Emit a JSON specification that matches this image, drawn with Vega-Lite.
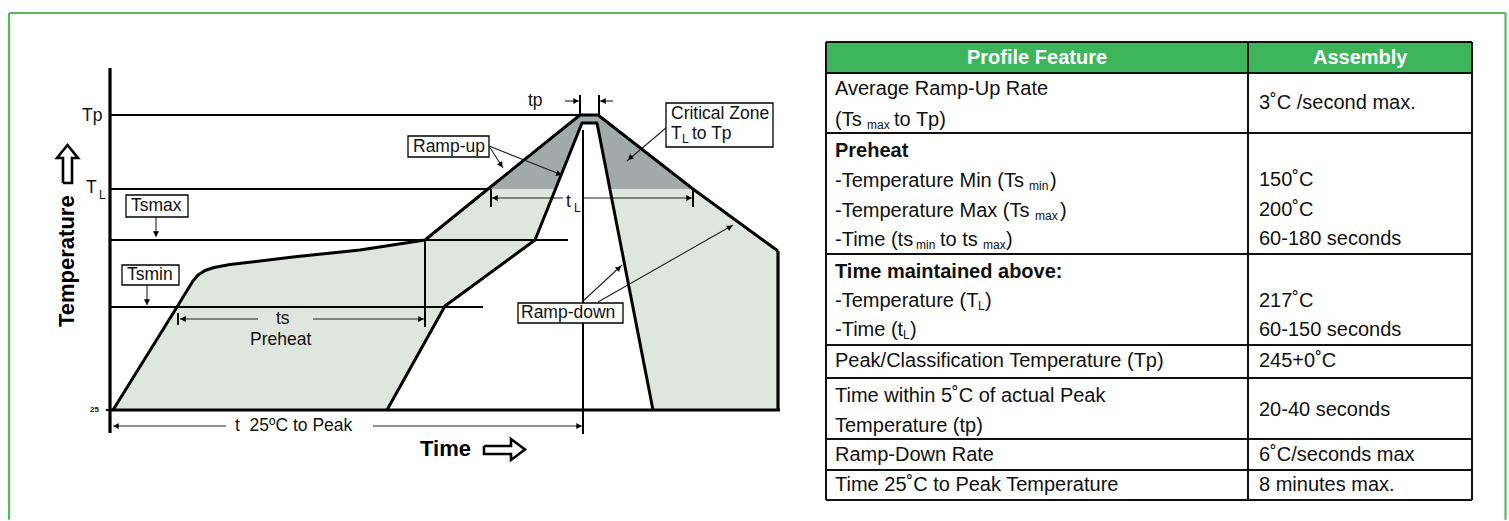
{
  "$schema": "https://vega.github.io/schema/vega-lite/v6.json",
  "width": 1509,
  "height": 521,
  "autosize": {"type": "fit", "contains": "padding"},
  "padding": 0,
  "background": "white",
  "config": {"view": {"stroke": null}, "text": {"font": "Liberation Sans"}},
  "datasets": {
    "frame": [
      {"x": 9, "y": 13, "x2": 1505.5, "y2": 13},
      {"x": 9, "y": 13, "x2": 9, "y2": 519.8},
      {"x": 1505.5, "y": 13, "x2": 1505.5, "y2": 519.8}
    ],
    "header": [{"x": 826, "y": 42, "x2": 1472, "y2": 73}],
    "outer": [
      {"x": 113, "y": 410, "y2": 410}, {"x": 177, "y": 307, "y2": 410}, {"x": 188, "y": 289, "y2": 410},
      {"x": 193, "y": 281, "y2": 410}, {"x": 198, "y": 275, "y2": 410}, {"x": 205, "y": 270.5, "y2": 410},
      {"x": 214, "y": 267.5, "y2": 410}, {"x": 230, "y": 264.5, "y2": 410}, {"x": 293, "y": 257, "y2": 410},
      {"x": 360, "y": 250, "y2": 410}, {"x": 425, "y": 240, "y2": 410}, {"x": 488, "y": 189, "y2": 410},
      {"x": 580, "y": 115, "y2": 410}, {"x": 598, "y": 115, "y2": 410}, {"x": 693, "y": 189, "y2": 410},
      {"x": 778, "y": 251, "y2": 410}
    ],
    "inner": [
      {"x": 387, "y": 410, "y2": 410}, {"x": 445, "y": 306, "y2": 410}, {"x": 535, "y": 240, "y2": 410},
      {"x": 582, "y": 123, "y2": 410}, {"x": 597, "y": 123, "y2": 410}, {"x": 653, "y": 410, "y2": 410}
    ],
    "zone": [
      {"x": 488, "y": 189, "y2": 189}, {"x": 555.5, "y": 134.7, "y2": 189}, {"x": 580, "y": 115, "y2": 128},
      {"x": 582, "y": 115, "y2": 123}, {"x": 597, "y": 115, "y2": 123}, {"x": 598, "y": 115, "y2": 128.1},
      {"x": 610, "y": 124.3, "y2": 189}, {"x": 693, "y": 189, "y2": 189}
    ],
    "segs": [
      {"w": "thick", "x": 110, "y": 68, "x2": 110, "y2": 433},
      {"w": "thick", "x": 110, "y": 410, "x2": 780, "y2": 410},
      {"w": "thick", "x": 778, "y": 251, "x2": 778, "y2": 410},
      {"w": "mid", "x": 110, "y": 115, "x2": 580, "y2": 115},
      {"w": "mid", "x": 110, "y": 189, "x2": 490, "y2": 189},
      {"w": "mid", "x": 110, "y": 240, "x2": 568, "y2": 240},
      {"w": "mid", "x": 110, "y": 307, "x2": 483, "y2": 307},
      {"w": "mid", "x": 425, "y": 240, "x2": 425, "y2": 327},
      {"w": "mid", "x": 583, "y": 130, "x2": 583, "y2": 434},
      {"w": "mid", "x": 580, "y": 95, "x2": 580, "y2": 115},
      {"w": "mid", "x": 599, "y": 95, "x2": 599, "y2": 115},
      {"w": "mid", "x": 491, "y": 189, "x2": 491, "y2": 207},
      {"w": "mid", "x": 693, "y": 189, "x2": 693, "y2": 207},
      {"w": "mid", "x": 178, "y": 313, "x2": 178, "y2": 325},
      {"w": "mid", "x": 106, "y": 410, "x2": 110, "y2": 410},
      {"w": "thin", "x": 565, "y": 101, "x2": 579, "y2": 101},
      {"w": "thin", "x": 600, "y": 101, "x2": 613, "y2": 101},
      {"w": "thin", "x": 492, "y": 198, "x2": 563, "y2": 198},
      {"w": "thin", "x": 583, "y": 198, "x2": 692, "y2": 198},
      {"w": "thin", "x": 180, "y": 319, "x2": 258, "y2": 319},
      {"w": "thin", "x": 313, "y": 319, "x2": 424, "y2": 319},
      {"w": "thin", "x": 113, "y": 426, "x2": 226, "y2": 426},
      {"w": "thin", "x": 373, "y": 426, "x2": 582, "y2": 426},
      {"w": "thin", "x": 156, "y": 217, "x2": 156, "y2": 237},
      {"w": "thin", "x": 147, "y": 285, "x2": 147, "y2": 305},
      {"w": "thin", "x": 489, "y": 146, "x2": 503, "y2": 168},
      {"w": "thin", "x": 489, "y": 146, "x2": 562, "y2": 175},
      {"w": "thin", "x": 667, "y": 127, "x2": 627, "y2": 161},
      {"w": "thin", "x": 582, "y": 302, "x2": 622, "y2": 265},
      {"w": "thin", "x": 598, "y": 302, "x2": 733, "y2": 225}
    ],
    "heads": [
      {"x": 576, "y": 101, "ang": 0}, {"x": 603, "y": 101, "ang": 180},
      {"x": 495, "y": 198, "ang": 180}, {"x": 689, "y": 198, "ang": 0},
      {"x": 183, "y": 319, "ang": 180}, {"x": 421, "y": 319, "ang": 0},
      {"x": 116, "y": 426, "ang": 180}, {"x": 579, "y": 426, "ang": 0},
      {"x": 156, "y": 234, "ang": 90}, {"x": 147, "y": 302, "ang": 90},
      {"x": 501, "y": 165, "ang": 56}, {"x": 559, "y": 174, "ang": 21},
      {"x": 630, "y": 158, "ang": 140}, {"x": 619, "y": 268, "ang": 319},
      {"x": 730, "y": 227, "ang": 330}
    ],
    "outlines": [
      {"g": "up", "i": 0, "x": 63, "y": 183}, {"g": "up", "i": 1, "x": 63, "y": 158},
      {"g": "up", "i": 2, "x": 57, "y": 158}, {"g": "up", "i": 3, "x": 67.5, "y": 145},
      {"g": "up", "i": 4, "x": 78, "y": 158}, {"g": "up", "i": 5, "x": 72, "y": 158},
      {"g": "up", "i": 6, "x": 72, "y": 183}, {"g": "up", "i": 7, "x": 63, "y": 183},
      {"g": "right", "i": 0, "x": 484, "y": 446}, {"g": "right", "i": 1, "x": 511, "y": 446},
      {"g": "right", "i": 2, "x": 511, "y": 439}, {"g": "right", "i": 3, "x": 525, "y": 449.5},
      {"g": "right", "i": 4, "x": 511, "y": 460}, {"g": "right", "i": 5, "x": 511, "y": 454},
      {"g": "right", "i": 6, "x": 484, "y": 454}, {"g": "right", "i": 7, "x": 484, "y": 446}
    ],
    "boxes": [
      {"x": 408, "y": 136, "x2": 489, "y2": 157},
      {"x": 666, "y": 103, "x2": 773, "y2": 147},
      {"x": 126, "y": 195, "x2": 188, "y2": 217},
      {"x": 122, "y": 265, "x2": 179, "y2": 285},
      {"x": 518, "y": 303, "x2": 623, "y2": 323}
    ],
    "labels": [
      {"t": "Tp", "x": 82, "y": 115.5},
      {"t": "T", "x": 86, "y": 188},
      {"t": "Ramp-up", "x": 413, "y": 146.5},
      {"t": "Critical Zone", "x": 671, "y": 114},
      {"t": "T", "x": 671, "y": 134},
      {"t": "to Tp", "x": 692, "y": 134},
      {"t": "Tsmax", "x": 131, "y": 206},
      {"t": "Tsmin", "x": 127, "y": 275},
      {"t": "Ramp-down", "x": 521, "y": 313},
      {"t": "tp", "x": 528, "y": 101},
      {"t": "t", "x": 566, "y": 202},
      {"t": "ts", "x": 276, "y": 319},
      {"t": "Preheat", "x": 250, "y": 340},
      {"t": "t\u00a0\u00a025ºC to Peak", "x": 235, "y": 426}
    ],
    "subs": [
      {"t": "L", "x": 99, "y": 195},
      {"t": "L", "x": 682, "y": 139},
      {"t": "L", "x": 574, "y": 208}
    ],
    "tiny": [{"t": "25", "x": 90, "y": 410}],
    "ytitle": [{"t": "Temperature", "x": 67, "y": 327}],
    "xtitle": [{"t": "Time", "x": 420, "y": 449}],
    "tlines": [
      {"x": 826, "y": 42, "x2": 826, "y2": 500}, {"x": 1472, "y": 42, "x2": 1472, "y2": 500},
      {"x": 1248, "y": 42, "x2": 1248, "y2": 500},
      {"x": 826, "y": 42, "x2": 1472, "y2": 42}, {"x": 826, "y": 73, "x2": 1472, "y2": 73},
      {"x": 826, "y": 133, "x2": 1472, "y2": 133}, {"x": 826, "y": 254, "x2": 1472, "y2": 254},
      {"x": 826, "y": 345, "x2": 1472, "y2": 345}, {"x": 826, "y": 378, "x2": 1472, "y2": 378},
      {"x": 826, "y": 439, "x2": 1472, "y2": 439}, {"x": 826, "y": 470, "x2": 1472, "y2": 470},
      {"x": 826, "y": 500, "x2": 1472, "y2": 500}
    ],
    "thead": [
      {"t": "Profile Feature", "x": 967, "y": 58},
      {"t": "Assembly", "x": 1313, "y": 58}
    ],
    "ttext": [
      {"t": "Average Ramp-Up Rate", "x": 835, "y": 89},
      {"t": "(Ts", "x": 835, "y": 120},
      {"t": "to Tp)", "x": 894, "y": 120},
      {"t": "-Temperature Min (Ts", "x": 835, "y": 181},
      {"t": ")", "x": 1050, "y": 181},
      {"t": "-Temperature Max (Ts", "x": 835, "y": 211},
      {"t": ")", "x": 1060, "y": 211},
      {"t": "-Time (ts", "x": 835, "y": 240},
      {"t": "to ts", "x": 940, "y": 240},
      {"t": ")", "x": 1006, "y": 240},
      {"t": "-Temperature (T", "x": 835, "y": 301},
      {"t": ")", "x": 985, "y": 301},
      {"t": "-Time (t", "x": 835, "y": 330},
      {"t": ")", "x": 910, "y": 330},
      {"t": "Peak/Classification Temperature (Tp)", "x": 835, "y": 361},
      {"t": "Time within 5˚C of actual Peak", "x": 835, "y": 396},
      {"t": "Temperature (tp)", "x": 835, "y": 426},
      {"t": "Ramp-Down Rate", "x": 835, "y": 455},
      {"t": "Time 25˚C to Peak Temperature", "x": 835, "y": 485},
      {"t": "3˚C /second max.", "x": 1259, "y": 103},
      {"t": "150˚C", "x": 1259, "y": 180},
      {"t": "200˚C", "x": 1259, "y": 210},
      {"t": "60-180 seconds", "x": 1259, "y": 239},
      {"t": "217˚C", "x": 1259, "y": 301},
      {"t": "60-150 seconds", "x": 1259, "y": 330},
      {"t": "245+0˚C", "x": 1259, "y": 361},
      {"t": "20-40 seconds", "x": 1259, "y": 410},
      {"t": "6˚C/seconds max", "x": 1259, "y": 455},
      {"t": "8 minutes max.", "x": 1259, "y": 485}
    ],
    "tbold": [
      {"t": "Preheat", "x": 835, "y": 151},
      {"t": "Time maintained above:", "x": 835, "y": 272}
    ],
    "tsubs": [
      {"t": "max", "x": 867, "y": 125},
      {"t": "min", "x": 1029, "y": 186},
      {"t": "max", "x": 1035, "y": 216},
      {"t": "min", "x": 916, "y": 245},
      {"t": "max", "x": 983, "y": 245},
      {"t": "L", "x": 978, "y": 306},
      {"t": "L", "x": 903, "y": 335}
    ]
  },
  "encoding": {
    "x": {"field": "x", "type": "quantitative", "scale": {"domain": [0, 1509], "nice": false, "zero": false}, "axis": null},
    "y": {"field": "y", "type": "quantitative", "scale": {"domain": [0, 521], "nice": false, "zero": false, "reverse": true}, "axis": null}
  },
  "layer": [
    {"data": {"name": "frame"}, "mark": {"type": "rule", "color": "#52bb5c", "strokeWidth": 2.2},
     "encoding": {"x2": {"field": "x2"}, "y2": {"field": "y2"}}},
    {"data": {"name": "header"}, "mark": {"type": "rect", "color": "#3db55b"},
     "encoding": {"x2": {"field": "x2"}, "y2": {"field": "y2"}}},
    {"data": {"name": "outer"}, "mark": {"type": "area", "color": "#dfe5df"},
     "encoding": {"y2": {"field": "y2"}}},
    {"data": {"name": "inner"}, "mark": {"type": "area", "color": "#ffffff"},
     "encoding": {"y2": {"field": "y2"}}},
    {"data": {"name": "zone"}, "mark": {"type": "area", "color": "#a1a9a9"},
     "encoding": {"y2": {"field": "y2"}}},
    {"data": {"name": "segs"}, "transform": [{"filter": "datum.w === 'mid'"}],
     "mark": {"type": "rule", "color": "#000", "strokeWidth": 2},
     "encoding": {"x2": {"field": "x2"}, "y2": {"field": "y2"}}},
    {"data": {"name": "segs"}, "transform": [{"filter": "datum.w === 'thin'"}],
     "mark": {"type": "rule", "color": "#222", "strokeWidth": 1.1},
     "encoding": {"x2": {"field": "x2"}, "y2": {"field": "y2"}}},
    {"data": {"name": "outer"}, "mark": {"type": "line", "color": "#000", "strokeWidth": 3, "strokeJoin": "round"},
     "encoding": {}},
    {"data": {"name": "inner"}, "mark": {"type": "line", "color": "#000", "strokeWidth": 3, "strokeJoin": "round"},
     "encoding": {}},
    {"data": {"name": "segs"}, "transform": [{"filter": "datum.w === 'thick'"}],
     "mark": {"type": "rule", "color": "#000", "strokeWidth": 3.2},
     "encoding": {"x2": {"field": "x2"}, "y2": {"field": "y2"}}},
    {"data": {"name": "outlines"}, "mark": {"type": "line", "color": "#000", "strokeWidth": 2.6},
     "encoding": {"detail": {"field": "g"}, "order": {"field": "i", "type": "quantitative"}}},
    {"data": {"name": "heads"}, "mark": {"type": "point", "shape": "triangle-right", "filled": true, "color": "#000", "size": 38, "opacity": 1},
     "encoding": {"angle": {"field": "ang", "type": "quantitative", "scale": {"domain": [0, 360], "range": [0, 360]}}}},
    {"data": {"name": "boxes"}, "mark": {"type": "rect", "fill": "#ffffff", "stroke": "#000", "strokeWidth": 1.3},
     "encoding": {"x2": {"field": "x2"}, "y2": {"field": "y2"}}},
    {"data": {"name": "labels"}, "mark": {"type": "text", "align": "left", "baseline": "middle", "fontSize": 17.5, "color": "#111"},
     "encoding": {"text": {"field": "t"}}},
    {"data": {"name": "subs"}, "mark": {"type": "text", "align": "left", "baseline": "middle", "fontSize": 12, "color": "#111"},
     "encoding": {"text": {"field": "t"}}},
    {"data": {"name": "tiny"}, "mark": {"type": "text", "align": "left", "baseline": "middle", "fontSize": 8, "fontWeight": "bold", "color": "#111"},
     "encoding": {"text": {"field": "t"}}},
    {"data": {"name": "ytitle"}, "mark": {"type": "text", "align": "left", "baseline": "middle", "angle": 270, "fontSize": 22, "fontWeight": "bold", "color": "#000"},
     "encoding": {"text": {"field": "t"}}},
    {"data": {"name": "xtitle"}, "mark": {"type": "text", "align": "left", "baseline": "middle", "fontSize": 22, "fontWeight": "bold", "color": "#000"},
     "encoding": {"text": {"field": "t"}}},
    {"data": {"name": "tlines"}, "mark": {"type": "rule", "color": "#111", "strokeWidth": 2},
     "encoding": {"x2": {"field": "x2"}, "y2": {"field": "y2"}}},
    {"data": {"name": "thead"}, "mark": {"type": "text", "align": "left", "baseline": "middle", "fontSize": 20, "fontWeight": "bold", "color": "#ffffff"},
     "encoding": {"text": {"field": "t"}}},
    {"data": {"name": "ttext"}, "mark": {"type": "text", "align": "left", "baseline": "middle", "fontSize": 20, "color": "#111"},
     "encoding": {"text": {"field": "t"}}},
    {"data": {"name": "tbold"}, "mark": {"type": "text", "align": "left", "baseline": "middle", "fontSize": 20, "fontWeight": "bold", "color": "#111"},
     "encoding": {"text": {"field": "t"}}},
    {"data": {"name": "tsubs"}, "mark": {"type": "text", "align": "left", "baseline": "middle", "fontSize": 12, "color": "#111"},
     "encoding": {"text": {"field": "t"}}}
  ]
}
